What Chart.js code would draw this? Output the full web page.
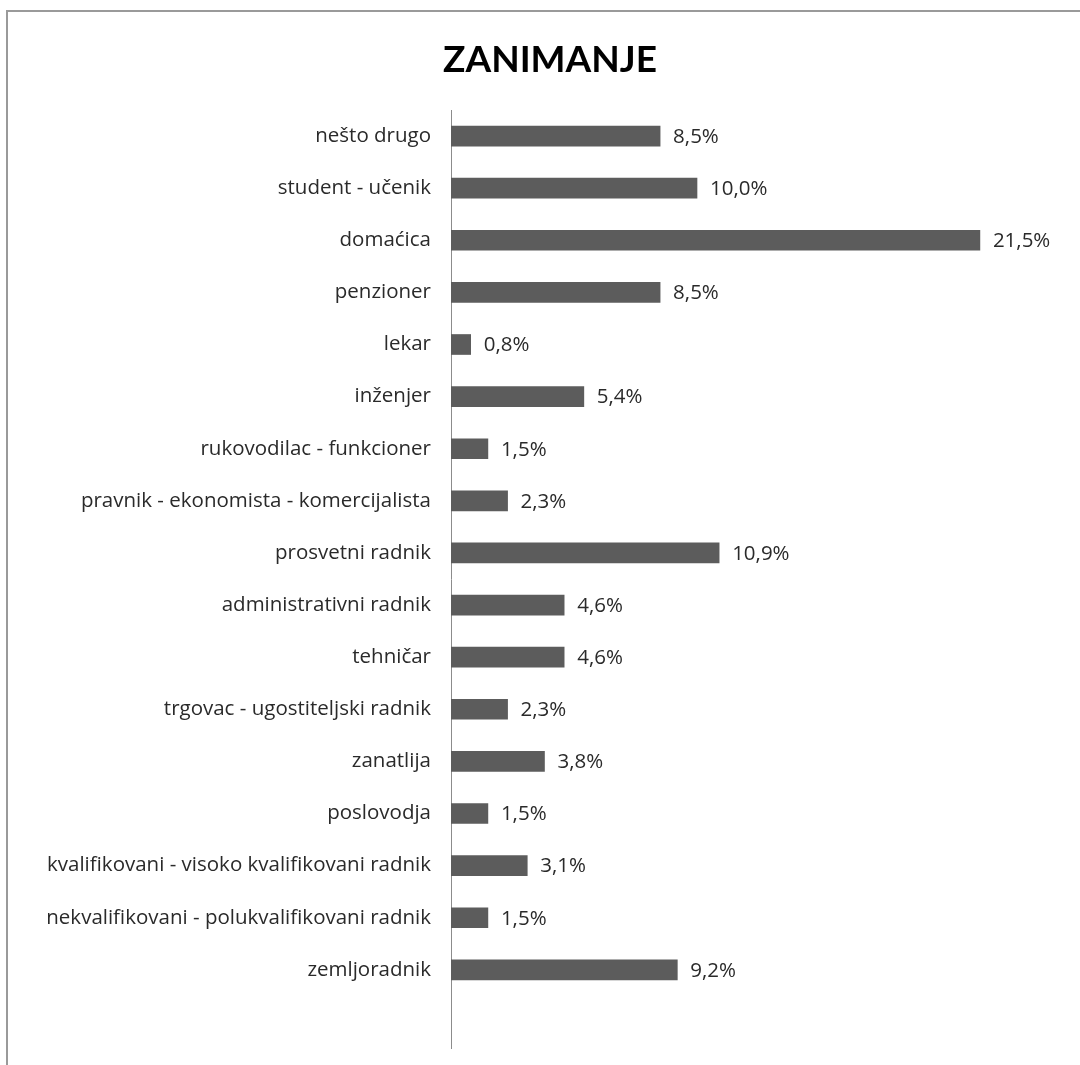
<!DOCTYPE html>
<html>
<head>
<meta charset="utf-8">
<script src="https://cdn.jsdelivr.net/npm/chart.js@4.4.0/dist/chart.umd.min.js"></script>
<style>
    html, body { margin: 0; padding: 0; background: #fff; }
    #wrap { position: relative; width: 1080px; height: 1065px; overflow: hidden; }
    #frame {
        position: absolute; left: 6px; top: 10px; width: 1200px; height: 1200px;
        border-left: 2px solid #9a9a9a; border-top: 2px solid #9a9a9a;
    }
    canvas { position: absolute; left: 0; top: 0; }
</style>
</head>
<body>
<div id="wrap">
    <div id="frame"></div>
    <canvas id="chart" width="1080" height="1065"></canvas>
</div>
<script>
// Occupations, top to bottom as in the original (last row is an empty Excel row)
const categories = [
    'nešto drugo',
    'student - učenik',
    'domaćica',
    'penzioner',
    'lekar',
    'inženjer',
    'rukovodilac - funkcioner',
    'pravnik - ekonomista - komercijalista',
    'prosvetni radnik',
    'administrativni radnik',
    'tehničar',
    'trgovac - ugostiteljski radnik',
    'zanatlija',
    'poslovodja',
    'kvalifikovani - visoko kvalifikovani radnik',
    'nekvalifikovani - polukvalifikovani radnik',
    'zemljoradnik',
    ''
];
const shares = [8.5, 10.0, 21.5, 8.5, 0.8, 5.4, 1.5, 2.3, 10.9, 4.6, 4.6, 2.3, 3.8, 1.5, 3.1, 1.5, 9.2, null];
const chartTitle = 'ZANIMANJE';
const axisMax = 25;

const FONT = '"Open Sans", Lato, sans-serif';

// Value labels at the end of each bar, written with a decimal comma
const valueLabels = {
    id: 'valueLabels',
    afterDatasetsDraw(chart) {
        const ctx = chart.ctx;
        const meta = chart.getDatasetMeta(0);
        ctx.save();
        ctx.font = '20.5px ' + FONT;
        ctx.fillStyle = '#2a2a2a';
        ctx.textAlign = 'left';
        ctx.textBaseline = 'middle';
        meta.data.forEach(function(bar, i) {
            const v = shares[i];
            if (v === null) return;
            ctx.fillText(v.toFixed(1).replace('.', ',') + '%', bar.x + 13, bar.y + 1);
        });
        ctx.restore();
    }
};

// Title drawn above the plot
const titlePlugin = {
    id: 'titlePlugin',
    afterDraw(chart) {
        const ctx = chart.ctx;
        ctx.save();
        ctx.font = 'bold 37px Lato, sans-serif';
        ctx.fillStyle = '#000';
        ctx.textAlign = 'center';
        ctx.textBaseline = 'middle';
        ctx.fillText(chartTitle, 550, 60);
        ctx.restore();
    }
};

new Chart(document.getElementById('chart'), {
    type: 'bar',
    data: {
        labels: categories,
        datasets: [{
            data: shares,
            backgroundColor: '#5c5c5c',
            borderWidth: 0,
            barThickness: 20
        }]
    },
    options: {
        indexAxis: 'y',
        responsive: false,
        animation: false,
        layout: {
            padding: { top: 110, right: 14, bottom: 17, left: 0 }
        },
        plugins: {
            legend: { display: false },
            tooltip: { enabled: false }
        },
        scales: {
            x: {
                display: false,
                min: 0,
                max: axisMax
            },
            y: {
                grid: { display: false, drawTicks: false },
                border: { display: true, color: '#8c8c8c', width: 1 },
                ticks: {
                    color: '#2a2a2a',
                    padding: 20,
                    font: { family: FONT, size: 20.5 }
                },
                afterFit: function(scale) {
                    scale.width = 451;
                    // keep the plot reaching the bottom like the original
                    scale.paddingTop = 0;
                    scale.paddingBottom = 0;
                }
            }
        }
    },
    plugins: [valueLabels, titlePlugin]
});
</script>
</body>
</html>
